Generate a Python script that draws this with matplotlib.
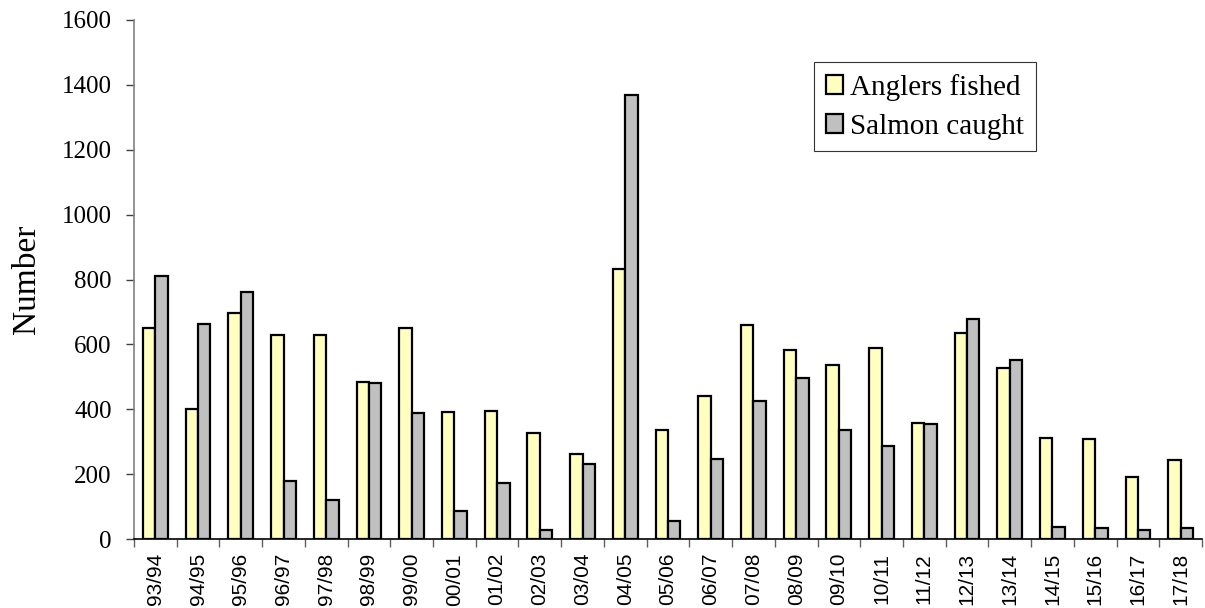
import numpy as np
import matplotlib
matplotlib.use("Agg")
import matplotlib.pyplot as plt
from matplotlib.ticker import FixedLocator

seasons = ["93/94", "94/95", "95/96", "96/97", "97/98", "98/99", "99/00",
           "00/01", "01/02", "02/03", "03/04", "04/05", "05/06", "06/07",
           "07/08", "08/09", "09/10", "10/11", "11/12", "12/13", "13/14",
           "14/15", "15/16", "16/17", "17/18"]
anglers = [649, 400, 698, 630, 630, 484, 649, 391, 394, 326, 263, 833, 335,
           441, 661, 584, 536, 589, 358, 635, 528, 312, 309, 190, 245]
salmon = [810, 662, 760, 179, 120, 481, 389, 87, 172, 28, 230, 1370, 54,
          248, 425, 497, 335, 287, 356, 679, 551, 38, 34, 28, 34]

serif = ["Liberation Serif", "DejaVu Serif"]
sans = ["Liberation Sans", "DejaVu Sans"]

fig = plt.figure(figsize=(12.05, 6.08), dpi=100)
ax = fig.add_axes([134 / 1205, 1 - 539 / 608, 1068 / 1205, 519 / 608])

x = np.arange(len(seasons))
w = 0.29
ax.bar(x - w / 2, anglers, w, color="#FFFFC0", edgecolor="black",
       linewidth=1.6, label="Anglers fished", zorder=3)
ax.bar(x + w / 2, salmon, w, color="#C0C0C0", edgecolor="black",
       linewidth=1.6, label="Salmon caught", zorder=3)

ax.set_xlim(-0.5, len(seasons) - 0.5)
ax.set_ylim(0, 1600)
ax.set_yticks(np.arange(0, 1601, 200))
ax.set_yticklabels([str(v) for v in range(0, 1601, 200)], family=serif, fontsize=18)

ax.set_xticks(x)
ax.set_xticklabels(seasons, rotation=90, family=sans, fontsize=15)
ax.xaxis.set_minor_locator(FixedLocator(np.arange(-0.5, len(seasons), 1.0)))
ax.tick_params(axis="x", which="major", length=0, pad=10)
ax.tick_params(axis="x", which="minor", length=6, width=1, color="#606060", direction="out")
ax.tick_params(axis="y", length=6, width=1, color="#404040", direction="out", pad=10)

for side in ("top", "right"):
    ax.spines[side].set_visible(False)
ax.spines["left"].set_color("#808080")
ax.spines["left"].set_linewidth(1.2)
ax.spines["bottom"].set_color("black")
ax.spines["bottom"].set_linewidth(1.2)

ax.set_ylabel("Number", family=serif, fontsize=24, labelpad=14)

leg = ax.legend(loc="upper left", bbox_to_anchor=(814 / 1205, 1 - 62 / 608),
                bbox_transform=fig.transFigure, prop={"family": serif, "size": 21},
                frameon=True, fancybox=False, shadow=False, borderpad=0.4,
                handlelength=0.6, handleheight=0.6, handletextpad=0.25,
                labelspacing=0.45, borderaxespad=0)
leg.get_frame().set_edgecolor("black")
leg.get_frame().set_linewidth(0.8)
for patch in leg.get_patches():
    patch.set_linewidth(1.6)

fig.savefig("out.png", dpi=100)
